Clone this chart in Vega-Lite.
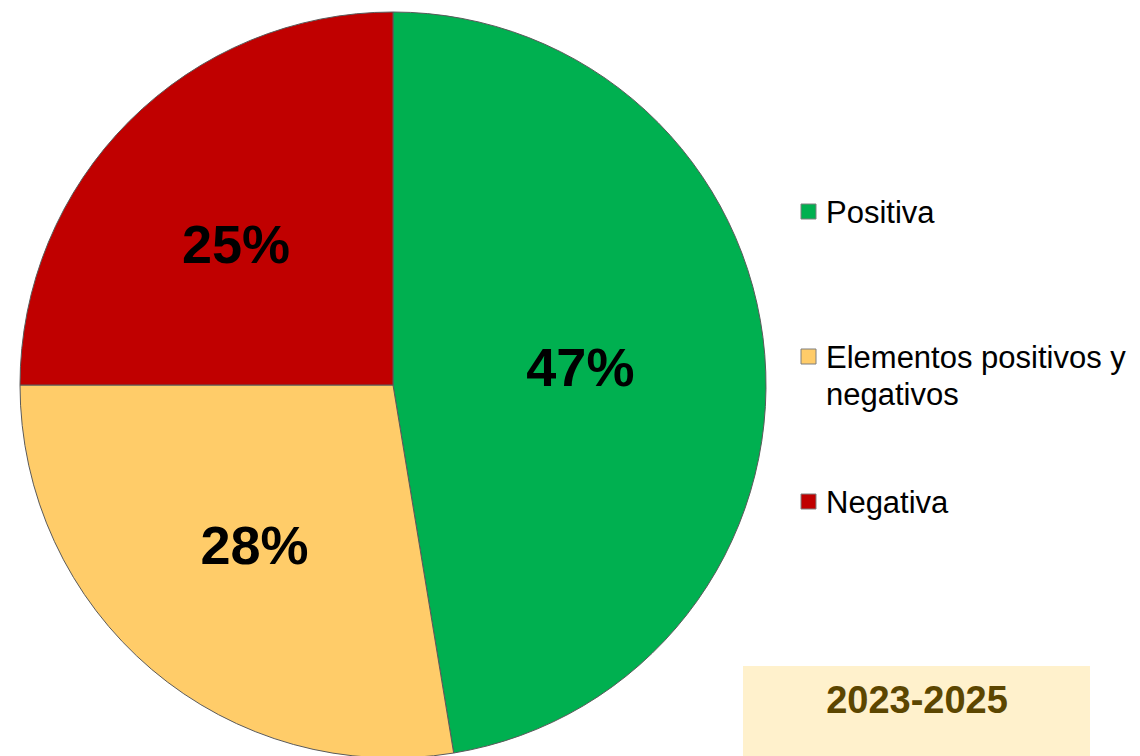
{
  "$schema": "https://vega.github.io/schema/vega-lite/v6.json",
  "width": 786,
  "height": 756,
  "autosize": {"type": "none"},
  "padding": {"left": 0, "top": 7, "right": 354, "bottom": 0},
  "background": "white",
  "config": {"view": {"stroke": null}, "font": "Liberation Sans"},
  "layer": [
    {
      "data": {
        "values": [
          {"categoria": "Positiva", "porcentaje": 0.474, "orden": 1},
          {"categoria": "Elementos positivos y negativos", "porcentaje": 0.276, "orden": 2},
          {"categoria": "Negativa", "porcentaje": 0.25, "orden": 3}
        ]
      },
      "encoding": {
        "theta": {"field": "porcentaje", "type": "quantitative", "stack": true},
        "order": {"field": "orden", "type": "quantitative"},
        "color": {
          "field": "categoria",
          "type": "nominal",
          "scale": {
            "domain": ["Positiva", "Elementos positivos y negativos", "Negativa"],
            "range": ["#00B050", "#FFCC69", "#C00000"]
          },
          "legend": {
            "orient": "none",
            "legendX": 793,
            "legendY": 189,
            "title": null,
            "symbolType": "square",
            "symbolSize": 225,
            "symbolStrokeColor": "#7f7f7f",
            "symbolStrokeWidth": 1,
            "labelFont": "Liberation Sans",
            "labelFontSize": 31,
            "labelColor": "black",
            "labelOffset": 2,
            "labelLimit": 600,
            "labelBaseline": "alphabetic",
            "labelExpr": "datum.label == 'Elementos positivos y negativos' ? ['Elementos positivos y', 'negativos'] : datum.label",
            "gridAlign": "all",
            "rowPadding": 75,
            "encode": {
              "labels": {"update": {"dy": {"value": 11}, "lineHeight": {"value": 37}}}
            }
          }
        }
      },
      "layer": [
        {"mark": {"type": "arc", "outerRadius": 373, "stroke": "#5a5a5a", "strokeWidth": 1}},
        {
          "mark": {
            "type": "text",
            "fontSize": 54,
            "fontWeight": "bold",
            "font": "Liberation Sans",
            "thetaOffset": {"expr": "datum.categoria == 'Negativa' ? -0.065 : 0"}
          },
          "encoding": {
            "text": {"field": "porcentaje", "type": "quantitative", "format": ".0%"},
            "radius": {"value": {"expr": "datum.categoria == 'Positiva' ? 188 : (datum.categoria == 'Negativa' ? 209 : 214)"}},
            "color": {"value": "black"}
          }
        }
      ]
    },
    {
      "data": {"values": [{"periodo": "2023-2025"}]},
      "mark": {"type": "point", "opacity": 0},
      "encoding": {
        "shape": {
          "field": "periodo",
          "type": "nominal",
          "legend": {
            "orient": "none",
            "legendX": 743,
            "legendY": 659,
            "title": "2023-2025",
            "titleFont": "Liberation Sans",
            "titleFontSize": 38,
            "titleFontWeight": "bold",
            "titleColor": "#5C4600",
            "titleAnchor": "middle",
            "titleLimit": 0,
            "titlePadding": 40,
            "padding": 17,
            "fillColor": "#FFF1CC",
            "symbolOpacity": 0,
            "symbolSize": 100,
            "labelExpr": "''",
            "labelOffset": 301
          }
        }
      }
    }
  ]
}
